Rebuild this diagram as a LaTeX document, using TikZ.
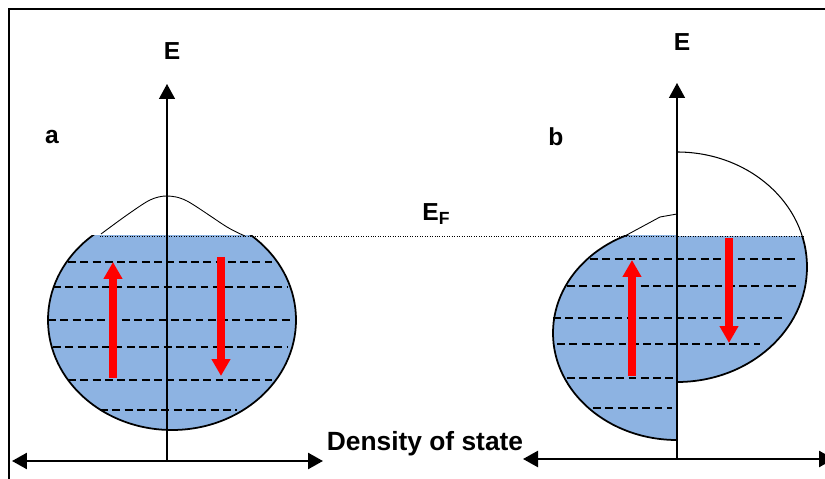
\documentclass[tikz,border=0pt]{standalone}
\usepackage{fontspec}
\setmainfont{Liberation Sans}
\usepackage{xcolor}
\usepackage{tikz}
\usetikzlibrary{arrows.meta}
\definecolor{dosblue}{RGB}{141,179,226}
\definecolor{spinred}{RGB}{255,0,0}

\begin{document}
\begin{tikzpicture}[
    x=0.02cm, y=-0.02cm,
    axis/.style={-{Triangle[length=0.3cm,width=0.32cm]}, line width=0.8pt},
    dosaxis/.style={{Triangle[length=0.3cm,width=0.32cm]}-{Triangle[length=0.3cm,width=0.32cm]}, line width=1.4pt},
    band/.style={fill=dosblue, draw=black, line width=1pt},
    level/.style={dash pattern=on 4.5pt off 2.5pt, line width=1pt},
    spin/.style={-{Triangle[length=0.34cm,width=0.36cm]}, spinred, line width=4pt},
    lbl/.style={font=\bfseries\fontsize{14}{16}\selectfont}
]
\clip (0,0) rectangle (825,479);
\draw[line width=0.8pt] (9,479) -- (9,9) -- (825,9);
\begin{scope}
  \clip (0,236) rectangle (420,479);
  \draw[band] (172,320) ellipse [x radius=124, y radius=110];
\end{scope}
\draw[line width=0.5pt] plot[smooth] coordinates {(101,234) (127,215) (150,200) (167,196) (187,201) (227,227) (245,236)};
\begin{scope}
  \clip (677,0) rectangle (825,237);
  \draw[line width=0.6pt] (677,267) ellipse [x radius=130, y radius=115];
\end{scope}
\begin{scope}
  \clip (677,237) rectangle (825,479);
  \draw[band] (677,267) ellipse [x radius=130, y radius=115];
\end{scope}
\begin{scope}
  \clip (420,236) rectangle (677,479);
  \draw[band] (677,333) ellipse [x radius=124, y radius=107];
\end{scope}
\draw[line width=0.5pt] (623,237) -- (660,217) -- (677,214);
\draw[densely dotted, line width=0.4pt] (100,236) -- (805,236);
\draw[level] (68,262) -- (272,262);
\draw[level] (53,287) -- (287,287);
\draw[level] (48,320) -- (293,320);
\draw[level] (53,347) -- (287,347);
\draw[level] (68,380) -- (272,380);
\draw[level] (100,410) -- (237,410);
\draw[level] (590,259) -- (795,259);
\draw[level] (567,286) -- (797,286);
\draw[level] (553,318) -- (785,318);
\draw[level] (557,344) -- (760,344);
\draw[level] (567,378) -- (673,378);
\draw[level] (593,408) -- (672,408);
\coordinate (abase) at (167,460);
\coordinate (atop) at (167,84);
\coordinate (bbase) at (677,459);
\coordinate (btop) at (677,83);
\coordinate (aleft) at (12,461);
\coordinate (aright) at (323,461);
\coordinate (bleft) at (523,459);
\coordinate (bright) at (834,459);
\draw[axis] (abase) -- (atop);
\draw[axis] (bbase) -- (btop);
\draw[dosaxis] (aleft) -- (aright);
\draw[dosaxis] (bleft) -- (bright);
\draw[spin] (113,378) -- (113,262);
\draw[spin] (221,257) -- (221,376);
\draw[spin] (632,376) -- (632,260);
\draw[spin] (729,238) -- (729,343);
\node[lbl] (ea) at (172,51) {E};
\node[lbl] (eb) at (682,42) {E};
\node[lbl] (la) at (52,137) {a};
\node[lbl] (lb) at (556,137) {b};
\node[lbl] (ef) at (436,214) {E\raisebox{-0.35ex}{\fontsize{10}{10}\selectfont F}};
\node[lbl, font=\bfseries\fontsize{15}{17}\selectfont] (dos) at (425,444) {Density of state};
\end{tikzpicture}
\end{document}
